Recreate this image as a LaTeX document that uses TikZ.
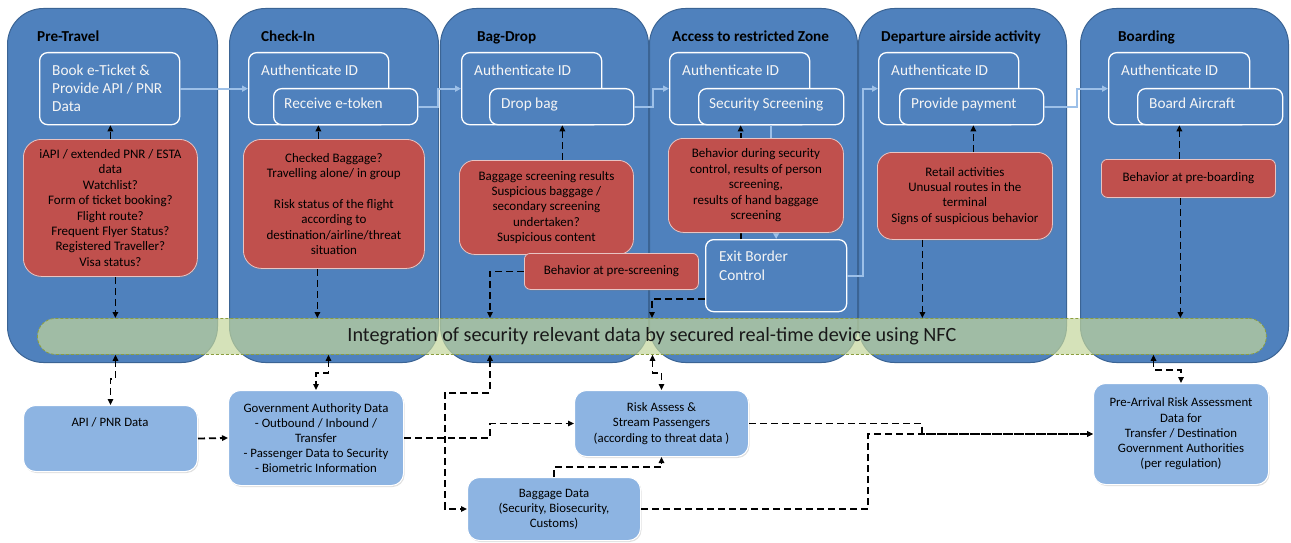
\documentclass[tikz,border=0pt]{standalone}
\usepackage{fontspec}
\setmainfont{Carlito}
\usetikzlibrary{arrows.meta,shadows,calc}
\definecolor{laneblue}{HTML}{4F81BD}
\definecolor{laneedge}{HTML}{3B6494}
\definecolor{boxred}{HTML}{C0504D}
\definecolor{redge}{HTML}{E8C4C3}
\definecolor{lightbox}{HTML}{8DB4E2}
\definecolor{linkblue}{HTML}{9DC0E8}
\definecolor{barfill}{HTML}{C3D69B}
\definecolor{baredge}{HTML}{8C9E3E}
\begin{document}
\begin{tikzpicture}[x=1pt,y=-1pt,
  lane/.style={draw=laneedge, line width=1pt, fill=laneblue, rounded corners=36pt, anchor=north west, inner sep=0pt},
  lanetitle/.style={font=\fontsize{15.2}{18}\selectfont\bfseries, anchor=base west, inner sep=0pt},
  procbox/.style={draw=white, line width=1.3pt, fill=laneblue, rounded corners=8pt, anchor=north west, inner sep=0pt},
  proctext/.style={text=white!96!black, font=\fontsize{15.3}{18}\selectfont, align=left, inner sep=0pt},
  redbox/.style={draw=redge, line width=0.8pt, fill=boxred, anchor=north west, align=center, inner sep=0pt,
     font=\fontsize{13}{15.4}\selectfont, drop shadow={opacity=0.25, shadow xshift=1pt, shadow yshift=-1.5pt}},
  lowbox/.style={draw=white, line width=1pt, fill=lightbox, rounded corners=12pt, anchor=north west, align=center, inner sep=0pt,
     font=\fontsize{12.8}{15.2}\selectfont, drop shadow={opacity=0.25, shadow xshift=1pt, shadow yshift=-1.5pt}},
  intbar/.style={draw=baredge, line width=0.8pt, dash pattern=on 3pt off 2pt, fill=barfill, fill opacity=0.7, text opacity=1,
     rounded corners=18pt, anchor=north west, inner sep=0pt, font=\fontsize{20.2}{24}\selectfont, text=black!90},
  lnk/.style={draw=linkblue, line width=1.8pt, -{Triangle[length=6pt,width=6pt]}},
  blk/.style={draw=black, line width=1.8pt, dash pattern=on 7pt off 4pt, -{Triangle[length=6pt,width=5.5pt]}},
  blkd/.style={draw=black, line width=1.8pt, dash pattern=on 7pt off 4pt, {Triangle[length=6pt,width=5.5pt]}-{Triangle[length=6pt,width=5.5pt]}}
]
\useasboundingbox (0,0) rectangle (1291,543);

% lanes
\node[lane, minimum width=210pt, minimum height=354pt] (L1) at (7,8) {};
\node[lane, minimum width=209pt, minimum height=354pt] (L2) at (229,8) {};
\node[lane, minimum width=208pt, minimum height=354pt] (L3) at (440,8) {};
\node[lane, minimum width=208pt, minimum height=354pt] (L4) at (649,8) {};
\node[lane, minimum width=208pt, minimum height=354pt] (L5) at (858,8) {};
\node[lane, minimum width=208pt, minimum height=354pt] (L6) at (1080,8) {};

\node[lanetitle] (t1) at (37,42) {Pre-Travel};
\node[lanetitle] (t2) at (261,42) {Check-In};
\node[lanetitle] (t3) at (477,42) {Bag-Drop};
\node[lanetitle] (t4) at (672,42) {Access to restricted Zone};
\node[lanetitle] (t5) at (881,42) {Departure airside activity};
\node[lanetitle] (t6) at (1118,42) {Boarding};

% process boxes
\node[procbox, minimum width=140pt, minimum height=72pt] (book) at (39,52) {};
\node[proctext, anchor=west] (booktxt) at (52,88) {Book e-Ticket \&\\Provide API / PNR\\Data};

\node[procbox, minimum width=140pt, minimum height=72pt] (auth2) at (248,52) {};
\node[proctext, anchor=base west] (auth2t) at (261,75) {Authenticate ID};
\node[procbox, minimum width=144pt, minimum height=36pt] (rec2) at (273,88) {};
\node[proctext, anchor=base west] (rec2t) at (284,109) {Receive e-token};

\node[procbox, minimum width=140pt, minimum height=72pt] (auth3) at (461,52) {};
\node[proctext, anchor=base west] (auth3t) at (474,75) {Authenticate ID};
\node[procbox, minimum width=144pt, minimum height=36pt] (drop) at (489,88) {};
\node[proctext, anchor=base west] (dropt) at (501,109) {Drop bag};

\node[procbox, minimum width=140pt, minimum height=72pt] (auth4) at (669,52) {};
\node[proctext, anchor=base west] (auth4t) at (682,75) {Authenticate ID};
\node[procbox, minimum width=145pt, minimum height=36pt] (sec) at (698,88) {};
\node[proctext, anchor=base west] (sect) at (709,109) {Security Screening};

\node[procbox, minimum width=140pt, minimum height=72pt] (auth5) at (878,52) {};
\node[proctext, anchor=base west] (auth5t) at (891,75) {Authenticate ID};
\node[procbox, minimum width=144pt, minimum height=36pt] (pay) at (899,88) {};
\node[proctext, anchor=base west] (payt) at (911,109) {Provide payment};

\node[procbox, minimum width=141pt, minimum height=72pt] (auth6) at (1108,52) {};
\node[proctext, anchor=base west] (auth6t) at (1121,75) {Authenticate ID};
\node[procbox, minimum width=145pt, minimum height=36pt] (board) at (1137,88) {};
\node[proctext, anchor=base west] (boardt) at (1149,109) {Board Aircraft};

\node[procbox, minimum width=141pt, minimum height=72pt] (exit) at (705,239) {};
\node[proctext, anchor=west] (exitt) at (719,266) {Exit Border\\[1pt]Control};

% light blue flow links
\draw[lnk] (book.east) -- (auth2.west);
\draw[lnk] (rec2.east) -- ++(20,0) |- (auth3.west);
\draw[lnk] (drop.east) -- ++(19,0) |- (auth4.west);
\draw[lnk] (sec.south) -- ++(0,50) -| (exit.north);
\draw[lnk] (exit.east) -- ++(16,0) |- (auth5.west);
\draw[lnk] (pay.east) -- ++(33,0) |- (auth6.west);

% arrow from exit border control up to security screening (behind red box)
\coordinate (e4) at ([xshift=-35.5pt]exit.north);
\draw[blk] (e4) -- (e4 |- sec.south);

% red boxes
\node[redbox, rounded corners=18pt, minimum width=174pt, minimum height=137pt] (red1) at (23,139)
  {iAPI / extended PNR / ESTA\\data\\Watchlist?\\Form of ticket booking?\\Flight route?\\Frequent Flyer Status?\\Registered Traveller?\\Visa status?};
\node[redbox, rounded corners=18pt, minimum width=181pt, minimum height=129pt] (red2) at (243,139)
  {Checked Baggage?\\Travelling alone/ in group\\[15.4pt]Risk status of the flight\\according to\\destination/airline/threat\\situation};
\node[redbox, rounded corners=15pt, minimum width=174pt, minimum height=94pt] (red3) at (459,160)
  {Baggage screening results\\Suspicious baggage /\\secondary screening\\undertaken?\\Suspicious content};
\node[redbox, rounded corners=6pt, minimum width=174pt, minimum height=36pt] (pres) at (524,253)
  {Behavior at pre-screening};
\node[redbox, rounded corners=15pt, minimum width=175pt, minimum height=94pt] (red4) at (668,138)
  {Behavior during security\\control, results of person\\screening,\\results of hand baggage\\screening};
\node[redbox, rounded corners=15pt, minimum width=175pt, minimum height=87pt] (red5) at (877,152)
  {Retail activities\\Unusual routes in the\\terminal\\Signs of suspicious behavior};
\node[redbox, rounded corners=6pt, minimum width=174pt, minimum height=38pt] (red6) at (1101,159)
  {Behavior at pre-boarding};

% arrows from red boxes up to process boxes
\draw[blk] (red1.north) -- (red1.north |- book.south);
\coordinate (e2) at ([xshift=-15.5pt]red2.north);
\draw[blk] (e2) -- (e2 |- rec2.south);
\coordinate (e3) at ([xshift=16pt]red3.north);
\draw[blk] (e3) -- (e3 |- drop.south);
\coordinate (e5) at ([xshift=8.5pt]red5.north);
\draw[blk] (e5) -- (e5 |- pay.south);
\coordinate (e6) at ([xshift=-9pt]red6.north);
\draw[blk] (e6) -- (e6 |- board.south);

% integration bar
\node[intbar, minimum width=1229pt, minimum height=36pt] (bar) at (37,318)
  {Integration of security relevant data by secured real-time device using NFC};

% arrows down into the bar
\coordinate (d1) at ([xshift=5pt]red1.south);
\draw[blk] (d1) -- (d1 |- bar.north);
\coordinate (d2) at ([xshift=-16.5pt]red2.south);
\draw[blk] (d2) -- (d2 |- bar.north);
\coordinate (d3) at ([xshift=-34pt]pres.west);
\draw[blk] (pres.west) -- (d3) -- (d3 |- bar.north);
\coordinate (d4a) at ([yshift=-23pt]exit.west);
\coordinate (d4) at ([xshift=-53pt]d4a);
\draw[blk] (d4a) -- (d4) -- (d4 |- bar.north);
\coordinate (d5) at ([xshift=-42.5pt]red5.south);
\draw[blk] (d5) -- (d5 |- bar.north);
\coordinate (d6) at ([xshift=-8pt]red6.south);
\draw[blk] (d6) -- (d6 |- bar.north);

% lower data boxes
\node[lowbox, minimum width=174pt, minimum height=66pt] (API) at (23,405) {};
\node[font=\fontsize{12.8}{15.2}\selectfont, inner sep=0pt] (apit) at (110,422) {API / PNR Data};
\node[lowbox, minimum width=175pt, minimum height=95pt] (Gov) at (228,390)
  {Government Authority Data\\- Outbound / Inbound /\\Transfer\\- Passenger Data to Security\\- Biometric Information};
\node[lowbox, minimum width=174pt, minimum height=66pt] (Risk) at (574,390)
  {Risk Assess \&\\Stream Passengers\\(according to threat data )};
\node[lowbox, minimum width=173pt, minimum height=63pt] (Bag) at (467,477)
  {Baggage Data\\(Security, Biosecurity,\\Customs)};
\node[lowbox, minimum width=175pt, minimum height=101pt] (Pre) at (1093,383)
  {Pre-Arrival Risk Assessment\\Data for\\Transfer / Destination\\Government Authorities\\(per regulation)};

% lower connectors
\coordinate (k1) at ([xshift=5pt]API.north);
\draw[blkd] (k1 |- bar.south) -- ++(0,24) -| (API.north);
\coordinate (k2) at ([xshift=12.5pt]Gov.north);
\draw[blkd] (k2 |- bar.south) -- ++(0,18) -| (Gov.north);
\draw[blk] (API.east) -- (Gov.west);
\draw[blk] (Gov.east) -- ++(86,0) |- (Risk.west);
\coordinate (k5) at ([xshift=86pt]Gov.east);
\draw[blkd] (k5 |- bar.south) -- ++(0,38) -- ++(-45,0) |- (Bag.west);
\coordinate (k6) at ([xshift=-9pt]Risk.north);
\draw[blkd] (k6 |- bar.south) -- ++(0,18) -| (Risk.north);
\draw[blk] (Bag.north) -- ++(0,-10) -| (Risk.south);
\draw[blk] (Risk.east) -- ++(173,0) |- (Pre.west);
\draw[blk] (Bag.east) -- ++(227,0) |- (Pre.west);
\coordinate (k10) at ([xshift=-27.5pt]Pre.north);
\draw[blkd] (k10 |- bar.south) -- ++(0,15) -| (Pre.north);
\end{tikzpicture}
\end{document}
